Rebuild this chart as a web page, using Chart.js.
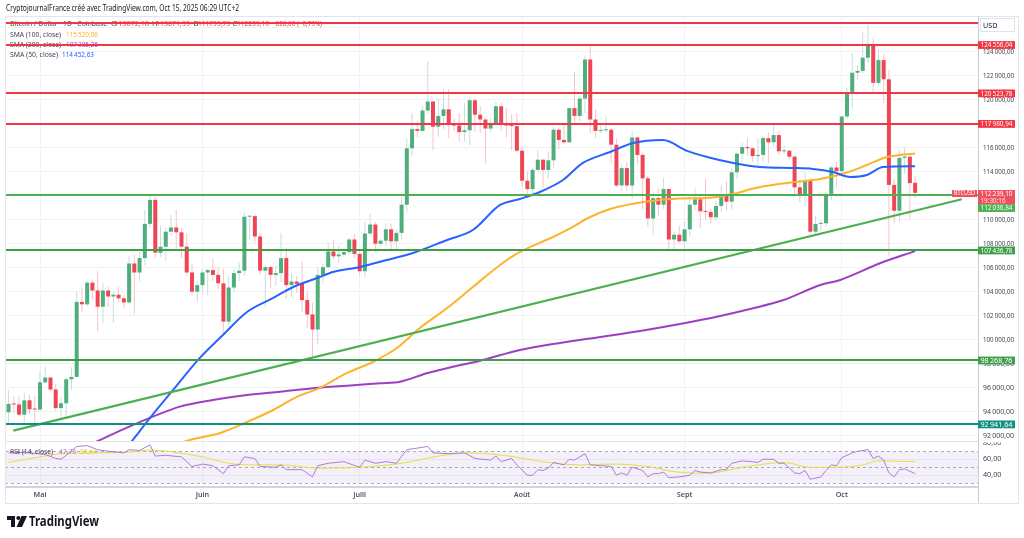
<!DOCTYPE html>
<html lang="fr">
<head>
<meta charset="utf-8">
<title>BTCUSD 1D</title>
<script src="https://cdn.jsdelivr.net/npm/chart.js@4.4.1/dist/chart.umd.min.js"></script>
<style>
  html, body { margin: 0; padding: 0; background: #fff; }
  #cadre { position: relative; width: 1024px; height: 538px; overflow: hidden; background: #fff; }
  #cadre canvas { position: absolute; left: 0; }
  #prix { top: 0; }
  #rsi { top: 441px; }
</style>
</head>
<body>
<div id="cadre">
  <canvas id="prix" width="1024" height="442"></canvas>
  <canvas id="rsi" width="1024" height="97"></canvas>
</div>
<script>
const ouvertures = [
  93950, 94650, 94600, 93750, 94950, 94200, 94180, 96450, 96850, 95850,
  94300, 94700, 96700, 96900, 103150, 102950, 104750, 104100, 102750, 104100,
  103600, 103750, 103450, 103100, 106350, 105600, 106800, 109650, 111650, 107250,
  107750, 109000, 109350, 108950, 107750, 105600, 104000, 104550, 105600, 105800,
  105400, 104700, 101500, 104350, 105550, 105750, 110250, 110300, 108600, 105750,
  106050, 105400, 105550, 106800, 104550, 104850, 104650, 103300, 102100, 100850,
  105400, 106050, 107350, 106950, 107100, 107300, 108350, 107150, 105700, 108850,
  109600, 108000, 108250, 109200, 108200, 108900, 111250, 115950, 117550, 117400,
  119100, 119850, 117750, 118650, 119200, 117950, 117850, 117300, 117450, 119950,
  118750, 118350, 117600, 117950, 119450, 117950, 117850, 117800, 115750, 113250,
  112550, 114150, 115000, 114150, 114950, 117500, 116650, 116450, 119300, 118650,
  120100, 123350, 118350, 117400, 117450, 117500, 116250, 112850, 114300, 112850,
  116850, 115400, 113450, 110100, 111800, 111250, 112550, 108350, 108750, 108200,
  109200, 111250, 111700, 110700, 110650, 110200, 111150, 112050, 111500, 113950,
  115500, 116050, 115950, 115300, 115400, 116800, 116450, 117050, 115700, 115750,
  115250, 112700, 112000, 113300, 109000, 109650, 109700, 112150, 114350, 114050,
  118600, 120650, 122250, 122400, 123500, 124650, 121400, 123300, 121700, 112900,
  110750, 115150, 115250, 113072.18
];
const hauts = [
  95800, 95300, 95300, 95600, 95400, 95300, 97400, 97800, 96900, 96300,
  95200, 96900, 97700, 104000, 104300, 104900, 104950, 105750, 104700, 104400,
  104000, 104400, 103700, 107000, 107100, 107300, 110800, 112000, 111900, 109500,
  109300, 110400, 110800, 109300, 108900, 106300, 104900, 105900, 105900, 106800,
  106000, 105900, 105300, 105900, 106400, 110600, 110400, 110400, 108900, 106200,
  106200, 106200, 108900, 107700, 105500, 105300, 106500, 104000, 103100, 106000,
  106300, 108100, 108300, 107800, 107600, 108500, 108800, 107500, 109800, 110500,
  109800, 108400, 109700, 109700, 109200, 111900, 116800, 118900, 118200, 119500,
  123200, 119900, 120100, 120900, 120900, 118400, 118900, 119700, 120200, 120100,
  119500, 118500, 118400, 119800, 119800, 119300, 118800, 118900, 116100, 114000,
  114300, 115800, 115100, 115700, 117700, 117700, 117900, 119300, 122300, 120300,
  123700, 124450, 119200, 117900, 118600, 117600, 116800, 114600, 114800, 117400,
  117000, 115600, 113700, 112400, 112600, 113500, 112600, 108950, 109500, 109900,
  111800, 112600, 112100, 113400, 110900, 111600, 112900, 113200, 114300, 115600,
  116400, 116800, 116100, 116800, 117000, 117300, 117900, 117400, 116200, 115800,
  115400, 113300, 114000, 113500, 110300, 110000, 112300, 114500, 114800, 118700,
  121000, 123900, 122900, 125600, 126250, 125100, 124200, 123800, 122500, 113400,
  115800, 116000, 115400, 113671.99
];
const bas = [
  92900, 93900, 93600, 92900, 93800, 92900, 94100, 96300, 95700, 94100,
  93500, 93400, 95800, 96900, 102300, 102800, 103400, 100700, 101400, 102700,
  101400, 103100, 102600, 103000, 102100, 104900, 106200, 109300, 106800, 106900,
  106600, 108700, 107600, 106800, 105300, 103700, 103100, 103800, 103700, 104900,
  104200, 100400, 101100, 104000, 104900, 105300, 108400, 108100, 105400, 102700,
  104300, 104500, 104800, 103400, 103500, 103900, 102300, 101000, 98300, 99600,
  104700, 105900, 106700, 106400, 106900, 107100, 106800, 105300, 105200, 108600,
  107300, 107800, 107800, 107500, 107400, 108400, 110600, 115300, 116900, 117300,
  118900, 115800, 116900, 117500, 116800, 117400, 116500, 116500, 116200, 117300,
  117200, 114700, 117300, 117800, 117400, 116900, 115800, 115600, 112700, 112000,
  111900, 114000, 112700, 113400, 114300, 115900, 116300, 116400, 118100, 118200,
  118900, 117200, 116800, 117200, 117300, 114700, 112700, 112400, 112400, 111700,
  114600, 110900, 109400, 108700, 110300, 110900, 107400, 107400, 108000, 107300,
  108600, 110800, 109300, 110000, 109700, 110000, 110600, 110800, 110900, 113400,
  114800, 115300, 114800, 114400, 114800, 114700, 116100, 115400, 115500, 115000,
  112000, 111500, 111100, 108600, 108700, 109100, 109400, 111600, 112700, 113900,
  118400, 119300, 121600, 122200, 123100, 120600, 121100, 119700, 107000, 109700,
  109800, 113800, 110100, 111793.73
];
const clotures = [
  94650, 94600, 93750, 94950, 94200, 94180, 96450, 96850, 95850, 94300,
  94700, 96700, 96900, 103150, 102950, 104750, 104100, 102750, 104100, 103600,
  103750, 103450, 103100, 106350, 105600, 106800, 109650, 111650, 107250, 107750,
  109000, 109350, 108950, 107750, 105600, 104000, 104550, 105600, 105800, 105400,
  104700, 101500, 104350, 105550, 105750, 110250, 110300, 108600, 105750, 106050,
  105400, 105550, 106800, 104550, 104850, 104650, 103300, 102100, 100850, 105400,
  106050, 107350, 106950, 107100, 107300, 108350, 107150, 105700, 108850, 109600,
  108000, 108250, 109200, 108200, 108900, 111250, 115950, 117550, 117400, 119100,
  119850, 117750, 118650, 119200, 117950, 117850, 117300, 117450, 119950, 118750,
  118350, 117600, 117950, 119450, 117950, 117850, 117800, 115750, 113250, 112550,
  114150, 115000, 114150, 114950, 117500, 116650, 116450, 119300, 118650, 120100,
  123350, 118350, 117400, 117450, 117500, 116250, 112850, 114300, 112850, 116850,
  115400, 113450, 110100, 111800, 111250, 112550, 108350, 108750, 108200, 109200,
  111250, 111700, 110700, 110650, 110200, 111150, 112050, 111500, 113950, 115500,
  116050, 115950, 115300, 115400, 116800, 116450, 117050, 115700, 115750, 115250,
  112700, 112000, 113300, 109000, 109650, 109700, 112150, 114350, 114050, 118600,
  120650, 122250, 122400, 123500, 124650, 121400, 123300, 121700, 112900, 110750,
  115150, 115250, 113050, 112239.10
];

// moyennes mobiles (jour, valeur)
const sma50Jours = [20, 23.7, 27, 31.4, 36.5, 40.9, 45.5, 50.5, 54.3, 58.9, 61.9, 67.1, 72.2, 77.2, 83.7, 88.6, 93.8, 97.6, 101.4, 105.8, 109.6, 114.8, 119.2, 124.9, 129.5, 133.3, 138.3, 143.4, 149.7, 153.5, 157.3, 160.6, 163.8, 166.9, 173];
const sma50 = [89600, 91640, 93480, 95810, 98480, 100390, 102310, 103480, 104390, 105140, 105640, 106060, 106640, 107230, 108310, 109140, 111230, 111730, 112310, 113310, 114730, 115640, 116390, 116640, 115730, 115230, 114730, 114390, 114310, 114230, 113980, 113560, 113730, 114390, 114452.63];
const sma100Jours = [31, 34.6, 40.4, 45.5, 50.5, 55, 59.4, 64.6, 69.5, 74.1, 78.5, 83.7, 88.6, 93.8, 97.6, 103.9, 107.7, 110.4, 114.8, 121.8, 128.1, 133.3, 138.3, 142.1, 147.2, 151, 154.9, 160, 163.8, 167.6, 170.1, 173];
const sma100 = [91100, 91640, 92230, 93140, 94140, 95230, 95980, 97230, 98140, 99310, 100980, 102640, 104390, 106230, 107310, 108560, 109400, 110100, 110890, 111520, 111770, 111810, 112140, 112600, 112980, 113180, 113390, 113930, 114560, 115230, 115390, 115520.06];
const sma200Jours = [16.5, 23.8, 32.7, 39, 45.5, 51.8, 58.1, 64.6, 70.9, 74.7, 79.8, 84.8, 90, 97.6, 105.2, 112.9, 120.5, 128.1, 135.8, 141.5, 147.9, 154.9, 158.7, 166.3, 173];
const sma200 = [91450, 92900, 94420, 94980, 95390, 95670, 95950, 96170, 96370, 96500, 97200, 97750, 98250, 99140, 99730, 100230, 100730, 101310, 101980, 102560, 103310, 104560, 104980, 106370, 107385.26];

// ligne de tendance et niveaux horizontaux
const tendanceJours = [0.9, 181.9];
const tendance = [92420, 111700];
const niveaux = [126400, 124556.04, 120523.78, 117980.94, 112036.84, 107436.78, 98268.76, 92941.64];

// RSI (14) et sa moyenne
const rsiJours = [0, 4, 7, 9, 10, 11, 13, 15, 17, 19, 22, 23, 25, 27, 28, 30, 33, 35, 37, 39, 41, 42, 44, 45, 47, 48, 51, 52, 53, 56, 58, 59, 61, 64, 67, 68, 70, 72, 74, 76, 78, 80, 81, 84, 87, 89, 92, 93, 94, 96, 97, 99, 100, 101, 102, 103, 104, 106, 107, 108, 110, 111, 113, 115, 116, 117, 118, 119, 121, 122, 123, 124, 125, 126, 128, 130, 131, 132, 134, 136, 137, 138, 140, 142, 143, 144, 146, 147, 148, 150, 151, 152, 153, 155, 156, 157, 158, 159, 161, 162, 164, 165, 166, 167, 168, 169, 170, 171, 173];
const rsi = [69, 68, 66, 61, 60, 65, 76, 77, 72, 70, 68, 72, 71, 78, 64, 65, 63, 51, 54, 52, 42, 52, 53, 63, 61, 51, 50, 53, 47, 47, 38, 52, 55, 57, 50, 59, 55, 57, 55, 72, 74, 76, 68, 67, 68, 61, 59, 64, 57, 61, 53, 40, 40, 47, 46, 49, 56, 53, 60, 59, 67, 53, 52, 51, 40, 43, 40, 50, 46, 38, 42, 42, 44, 37, 38, 40, 46, 44, 43, 47, 47, 55, 58, 57, 56, 60, 60, 55, 55, 43, 42, 46, 35, 38, 46, 53, 52, 62, 68, 70, 72, 61, 64, 59, 43, 38, 47, 48, 42];
const rsiMaJours = [0, 6, 11, 18, 24, 27, 31, 37, 42, 47, 52, 59, 67, 75, 83, 88, 96, 102, 109, 115, 122, 127, 133, 141, 148, 153, 158, 163, 166, 173];
const rsiMa = [56, 63, 67.5, 68, 69.5, 71.6, 69.5, 63, 55, 53, 53, 49, 50, 55, 65, 68, 63.5, 57, 53, 54, 51, 44.5, 42.5, 51, 56, 50, 50, 53, 58, 57];

// axes
const moisJours = [6, 37, 67, 98, 129, 159];
const moisLabels = ["Mai", "Juin", "Juill", "Août", "Sept", "Oct"];
const prixTicks = [92000, 94000, 96000, 98000, 100000, 102000, 104000, 106000, 108000, 110000, 112000, 114000, 116000, 118000, 120000, 122000, 124000, 126000];
const rsiTicks = [40, 60, 80];

// ---- styles ----
const police = "'Noto Sans', 'DejaVu Sans', sans-serif";
const hausse = "#4fae7b";
const baisse = "#ef4655";
const mecheHausse = "#c9dde0";
const mecheBaisse = "#f5c4ca";
const bleu = "#2962ff";
const orange = "#fdb32b";
const violet = "#9c3fc4";
const rouge = "#f23645";
const vert = "#4caf50";
const vertFonce = "#3f9e48";
const sarcelle = "#10917f";
const grille = "#f0f2f6";
const texteGris = "#42454f";
const couleursNiveaux = [rouge, rouge, rouge, rouge, vert, vertFonce, vertFonce, sarcelle];

const XMIN = -0.68, XMAX = 185;
const PRIX_MIN = 91558, PRIX_MAX = 126975;
const RSI_MIN = 26.6, RSI_MAX = 81.6;
const AXE_X = 978;

function pts(jours, valeurs) {
  return jours.map((j, i) => ({ x: j, y: valeurs[i] }));
}

function nombreFr(v, espaces) {
  const [ent, dec] = v.toFixed(2).split(".");
  const e = espaces ? ent.replace(/\B(?=(\d{3})+(?!\d))/g, "\u202f") : ent;
  return e + "," + dec;
}

function ecrire(ctx, s, x, y, couleur, taille, largeurMax, poids, align) {
  ctx.font = (poids || "400") + " " + taille + "px " + police;
  ctx.fillStyle = couleur;
  ctx.textBaseline = "middle";
  ctx.textAlign = align || "left";
  if (largeurMax) ctx.fillText(s, x, y, largeurMax);
  else ctx.fillText(s, x, y);
}

function etiquette(ctx, yc, s, fond, h) {
  ctx.fillStyle = fond;
  ctx.fillRect(AXE_X, yc - h / 2, 37, h);
  ecrire(ctx, s, AXE_X + 2.5, yc + 0.3, "#ffffff", 7.2, 32);
}

function serie(jours, valeurs, couleur, ordre) {
  return {
    type: "line",
    data: pts(jours, valeurs),
    borderColor: couleur,
    borderWidth: 2,
    pointRadius: 0,
    cubicInterpolationMode: "monotone",
    order: ordre
  };
}

const meches = ouvertures.map((o, i) => ({ x: i, y: [bas[i], hauts[i]] }));
const corps = ouvertures.map((o, i) => ({ x: i, y: [o, clotures[i]] }));
const couleurCorps = ouvertures.map((o, i) => (clotures[i] >= o ? hausse : baisse));
const couleurMeches = ouvertures.map((o, i) => (clotures[i] >= o ? mecheHausse : mecheBaisse));

// ---- décor du panneau prix ----
const decorPrix = {
  id: "decorPrix",
  beforeDatasetsDraw(chart) {
    const ctx = chart.ctx;
    ctx.save();
    ecrire(ctx, "Bitcoin / Dollar · 1D · Coinbase", 10, 24, texteGris, 7.6, 97);
    ecrire(ctx, "O", 111, 24, texteGris, 7.6);
    ecrire(ctx, "113072,18", 114, 24, rouge, 7.6, 35);
    ecrire(ctx, "H", 152, 24, texteGris, 7.6);
    ecrire(ctx, "113671,99", 156, 24, rouge, 7.6, 34);
    ecrire(ctx, "B", 193.5, 24, texteGris, 7.6);
    ecrire(ctx, "111793,73", 198, 24, rouge, 7.6, 32);
    ecrire(ctx, "C", 232.5, 24, texteGris, 7.6);
    ecrire(ctx, "112239,10", 237, 24, rouge, 7.6, 32);
    ecrire(ctx, "\u2212828,60 (\u22120,73%)", 272, 24, rouge, 7.6, 50);
    ecrire(ctx, "SMA (100, close)", 10, 34.5, texteGris, 7.6, 51);
    ecrire(ctx, nombreFr(sma100[sma100.length - 1], true), 66, 34.5, orange, 7.6, 32);
    ecrire(ctx, "SMA (200, close)", 10, 44.5, texteGris, 7.6, 51);
    ecrire(ctx, nombreFr(sma200[sma200.length - 1], true), 66, 44.5, violet, 7.6, 32);
    ecrire(ctx, "SMA (50, close)", 10, 54.5, texteGris, 7.6, 48);
    ecrire(ctx, nombreFr(sma50[sma50.length - 1], true), 62, 54.5, bleu, 7.6, 32);
    ctx.restore();
  },
  afterDatasetsDraw(chart) {
    const { ctx, chartArea: a, scales: { y } } = chart;
    ctx.save();
    ctx.lineWidth = 2;
    niveaux.forEach((v, i) => {
      const py = Math.round(y.getPixelForValue(v));
      ctx.strokeStyle = couleursNiveaux[i];
      ctx.beginPath();
      ctx.moveTo(a.left, py);
      ctx.lineTo(a.right, py);
      ctx.stroke();
    });
    ctx.restore();
  },
  afterDraw(chart) {
    const { ctx, scales: { y } } = chart;
    ctx.save();
    // cadre
    ctx.strokeStyle = "#e3e5ec";
    ctx.lineWidth = 1;
    ctx.beginPath();
    ctx.moveTo(5, 16.5); ctx.lineTo(1019, 16.5);
    ctx.moveTo(5.5, 16); ctx.lineTo(5.5, 442);
    ctx.moveTo(1018.5, 16); ctx.lineTo(1018.5, 442);
    ctx.stroke();
    ctx.strokeStyle = "#c9ccd4";
    ctx.beginPath();
    ctx.moveTo(AXE_X + 0.5, 16); ctx.lineTo(AXE_X + 0.5, 442);
    ctx.stroke();

    // graduations de prix
    prixTicks.forEach(v => {
      ecrire(ctx, nombreFr(v, true), 983, y.getPixelForValue(v), texteGris, 7.2, 31);
    });

    // étiquettes des niveaux
    const yPrix = y.getPixelForValue(clotures[clotures.length - 1]);
    niveaux.forEach((v, i) => {
      if (i === 0) return;
      let yc = y.getPixelForValue(v);
      if (Math.abs(yc - yPrix) < 15) yc = yPrix + 11.2 + 4;
      etiquette(ctx, yc, nombreFr(v, true), couleursNiveaux[i], 7.8);
    });

    // prix courant
    ctx.fillStyle = "#f0505e";
    ctx.fillRect(AXE_X, yPrix - 2.8, 37, 14);
    ecrire(ctx, nombreFr(clotures[clotures.length - 1], true), AXE_X + 2.5, yPrix + 0.8, "#ffffff", 7.2, 32);
    ecrire(ctx, "19:30:16", AXE_X + 2.5, yPrix + 8, "#ffe3e6", 7, 25);
    ctx.fillStyle = "#f0505e";
    ctx.fillRect(952, yPrix - 2.8, 25, 7);
    ecrire(ctx, "BTCUSD", 954, yPrix + 0.7, "#ffffff", 6.8, 21);

    // boîte USD
    ctx.fillStyle = "#ffffff";
    ctx.strokeStyle = "#e0e3eb";
    ctx.fillRect(AXE_X + 2, 18, 35, 14);
    ctx.strokeRect(AXE_X + 2.5, 18.5, 34, 13);
    ecrire(ctx, "USD", 983, 25.5, "#131722", 7.2);

    // en-tête
    ecrire(ctx, "CryptojournalFrance créé avec TradingView.com, Oct 15, 2025 06:29 UTC+2", 6, 8.5, "#131722", 8, 233);
    ctx.restore();
  }
};

// ---- décor du panneau RSI ----
const decorRsi = {
  id: "decorRsi",
  beforeDatasetsDraw(chart) {
    const { ctx, chartArea: a, scales: { y } } = chart;
    ctx.save();
    const y70 = y.getPixelForValue(70), y30 = y.getPixelForValue(30);
    ctx.fillStyle = "rgba(126, 87, 194, 0.09)";
    ctx.fillRect(a.left, y70, a.right - a.left, y30 - y70);
    ctx.strokeStyle = "#a9acb5";
    ctx.lineWidth = 1;
    ctx.setLineDash([3, 3]);
    [70, 50, 30].forEach(v => {
      const py = Math.round(y.getPixelForValue(v)) + 0.5;
      ctx.beginPath();
      ctx.moveTo(a.left, py);
      ctx.lineTo(a.right, py);
      ctx.stroke();
    });
    ctx.restore();
  },
  afterDraw(chart) {
    const { ctx, scales: { x, y } } = chart;
    ctx.save();
    // séparateurs et cadre
    ctx.strokeStyle = "#e3e5ec";
    ctx.lineWidth = 1;
    ctx.beginPath();
    ctx.moveTo(5, 0.5); ctx.lineTo(AXE_X, 0.5);
    ctx.moveTo(5.5, 0); ctx.lineTo(5.5, 62);
    ctx.moveTo(1018.5, 0); ctx.lineTo(1018.5, 62);
    ctx.moveTo(5, 62.5); ctx.lineTo(1019, 62.5);
    ctx.stroke();
    ctx.fillStyle = "#d1d4dc";
    ctx.fillRect(5, 45, AXE_X - 5, 2);
    ctx.strokeStyle = "#c9ccd4";
    ctx.beginPath();
    ctx.moveTo(AXE_X + 0.5, 0); ctx.lineTo(AXE_X + 0.5, 62);
    ctx.stroke();

    // graduations RSI (80 coupé par le bord du panneau)
    ctx.save();
    ctx.beginPath();
    ctx.rect(AXE_X + 1, 1.5, 40, 44);
    ctx.clip();
    rsiTicks.forEach(v => {
      ecrire(ctx, nombreFr(v, false), 983, y.getPixelForValue(v), texteGris, 7.2, 20);
    });
    ctx.restore();

    // mois
    moisJours.forEach((d, i) => {
      ecrire(ctx, moisLabels[i], x.getPixelForValue(d), 54, "#50535e", 7.2, 16, "600", "center");
    });

    // légende RSI
    ecrire(ctx, "RSI (14, close)", 10, 11, texteGris, 7.6, 43);
    ecrire(ctx, "47,73", 59, 11, "#b27ad6", 7.6, 17);
    ecrire(ctx, "56,94", 80, 11, "#d9d43a", 7.6, 17);

    // logo TradingView
    ctx.fillStyle = "#131722";
    ctx.fillRect(7, 75, 8, 4);
    ctx.fillRect(11, 75, 4, 11);
    ctx.beginPath();
    ctx.arc(18.3, 77, 2, 0, Math.PI * 2);
    ctx.fill();
    ctx.beginPath();
    ctx.moveTo(21.5, 75); ctx.lineTo(27, 75); ctx.lineTo(22, 86); ctx.lineTo(16.5, 86);
    ctx.closePath();
    ctx.fill();
    ecrire(ctx, "TradingView", 29, 81, "#131722", 13.5, 70, "700");
    ctx.restore();
  }
};

const axeX = (hauteur) => ({
  type: "linear",
  min: XMIN,
  max: XMAX,
  offset: false,
  grid: { color: grille, offset: false, drawTicks: false },
  border: { display: false },
  ticks: { display: false },
  afterBuildTicks: s => { s.ticks = moisJours.map(v => ({ value: v })); },
  afterFit: s => { s.height = hauteur; }
});

new Chart(document.getElementById("prix"), {
  type: "bar",
  data: {
    datasets: [
      { type: "bar", data: meches, backgroundColor: couleurMeches, grouped: false, barPercentage: 1, maxBarThickness: 1, borderWidth: 0, order: 6 },
      { type: "bar", data: corps, backgroundColor: couleurCorps, grouped: false, barPercentage: 1, maxBarThickness: 4, minBarLength: 1, borderWidth: 0, order: 5 },
      serie(sma200Jours, sma200, violet, 4),
      serie(sma100Jours, sma100, orange, 3),
      serie(sma50Jours, sma50, bleu, 2),
      { type: "line", data: pts(tendanceJours, tendance), borderColor: vert, borderWidth: 2.2, pointRadius: 0, order: 1 }
    ]
  },
  options: {
    responsive: false,
    animation: false,
    events: [],
    layout: { padding: { left: 5, right: 5, top: 16, bottom: 1 } },
    plugins: { legend: { display: false }, tooltip: { enabled: false } },
    scales: {
      x: axeX(0),
      y: {
        type: "linear",
        position: "right",
        min: PRIX_MIN,
        max: PRIX_MAX,
        grid: { color: grille, drawTicks: false },
        border: { display: false },
        ticks: { display: false },
        afterBuildTicks: s => { s.ticks = prixTicks.map(v => ({ value: v })); },
        afterFit: s => { s.width = 41; }
      }
    }
  },
  plugins: [decorPrix]
});

new Chart(document.getElementById("rsi"), {
  type: "line",
  data: {
    datasets: [
      { data: pts(rsiMaJours, rsiMa), borderColor: "#e4df3c", borderWidth: 1, pointRadius: 0, cubicInterpolationMode: "monotone", order: 2 },
      { data: pts(rsiJours, rsi), borderColor: "#b27ad6", borderWidth: 1, pointRadius: 0, tension: 0, order: 1 }
    ]
  },
  options: {
    responsive: false,
    animation: false,
    events: [],
    layout: { padding: { left: 5, right: 5, top: 1, bottom: 0 } },
    plugins: { legend: { display: false }, tooltip: { enabled: false } },
    scales: {
      x: axeX(52),
      y: {
        type: "linear",
        position: "right",
        min: RSI_MIN,
        max: RSI_MAX,
        grid: { color: grille, drawTicks: false },
        border: { display: false },
        ticks: { display: false },
        afterBuildTicks: s => { s.ticks = [40, 60].map(v => ({ value: v })); },
        afterFit: s => { s.width = 41; }
      }
    }
  },
  plugins: [decorRsi]
});
</script>
</body>
</html>
